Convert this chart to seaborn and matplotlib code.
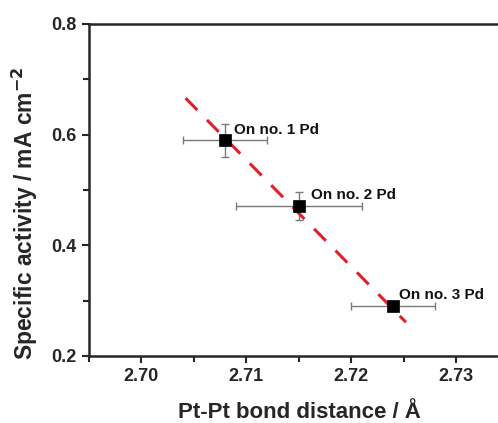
import matplotlib
matplotlib.use("Agg")
import matplotlib.pyplot as plt
import seaborn as sns
import pandas as pd
from matplotlib.ticker import MultipleLocator

# data
distance = [2.708, 2.715, 2.724]
activity = [0.590, 0.471, 0.290]
x_err = [0.004, 0.006, 0.004]
y_err = [0.030, 0.025, 0.0]
labels = ["On no. 1 Pd", "On no. 2 Pd", "On no. 3 Pd"]
fit_x = [2.7042, 2.7252]
fit_y = [0.666, 0.261]

sns.set_style("ticks")
plt.rcParams["font.family"] = ["Liberation Sans", "DejaVu Sans"]
plt.rcParams["font.weight"] = "bold"

fig = plt.figure(figsize=(4.98, 4.23), dpi=100)
ax = fig.add_axes([0.1787, 0.1584, 0.843, 0.785])

df = pd.DataFrame({"d": distance, "a": activity})
fit = pd.DataFrame({"x": fit_x, "y": fit_y})

ax.errorbar(distance, activity, xerr=x_err, yerr=y_err, fmt="none",
            ecolor="#7a7a7a", elinewidth=1.0, capsize=3, capthick=1.0, zorder=2)
sns.lineplot(data=fit, x="x", y="y", ax=ax, color="#e0202a", lw=2.2,
             dashes=False, zorder=3)
ax.lines[-1].set_dashes([5.5, 4.5])
sns.scatterplot(data=df, x="d", y="a", ax=ax, marker="s", s=75, color="black",
                edgecolor="black", linewidth=0.5, zorder=4)

offsets = [(6.5, 7.5), (8.6, 8.0), (4.3, 8.0)]
for xv, yv, lab, off in zip(distance, activity, labels, offsets):
    ax.annotate(lab, (xv, yv), xytext=off, textcoords="offset points",
                fontsize=11, fontweight="bold", ha="left", va="center", color="#111111")

ax.set_xlim(2.695, 2.735)
ax.set_ylim(0.2, 0.8)
ax.xaxis.set_major_locator(MultipleLocator(0.01))
ax.xaxis.set_minor_locator(MultipleLocator(0.005))
ax.yaxis.set_major_locator(MultipleLocator(0.2))
ax.yaxis.set_minor_locator(MultipleLocator(0.1))
ax.set_xticks([2.70, 2.71, 2.72, 2.73])
ax.set_xticklabels(["2.70", "2.71", "2.72", "2.73"])
ax.set_yticks([0.2, 0.4, 0.6, 0.8])
ax.set_yticklabels(["0.2", "0.4", "0.6", "0.8"])

ax.tick_params(which="major", direction="out", length=5, width=1.5, labelsize=13, pad=4)
ax.tick_params(which="minor", direction="out", length=4, width=1.5)
for lab in ax.get_xticklabels() + ax.get_yticklabels():
    lab.set_fontweight("bold")
for sp in ax.spines.values():
    sp.set_linewidth(1.8)
    sp.set_visible(True)

ax.set_xlabel("Pt-Pt bond distance / Å", fontsize=16, fontweight="bold", labelpad=12)
ax.set_ylabel("Specific activity / mA cm$^{\\mathbf{-2}}$", fontsize=16.5, fontweight="bold")
ax.yaxis.set_label_coords(-0.117, 0.43)

fig.savefig("out.png", dpi=100)
